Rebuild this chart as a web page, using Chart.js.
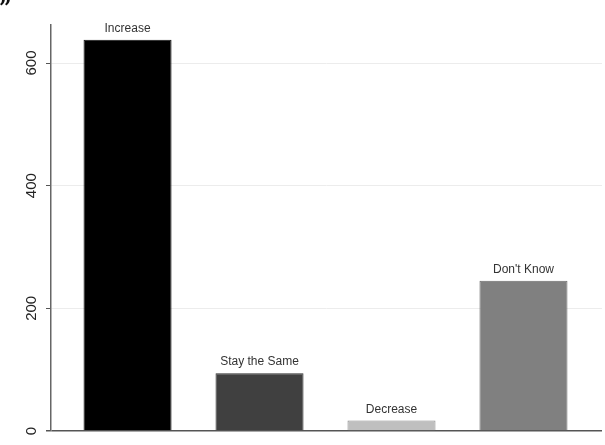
<!DOCTYPE html>
<html>
<head>
<meta charset="utf-8">
<script src="https://cdn.jsdelivr.net/npm/chart.js@4"></script>
<style>
  html, body { margin:0; padding:0; background:#fff; }
  #wrap { position:relative; width:605px; height:445px; }
</style>
</head>
<body>
<div id="wrap"><canvas id="responseChart" width="605" height="445"></canvas></div>
<script>
const categories = ["Increase", "Stay the Same", "Decrease", "Don't Know"];
const counts = [638, 94, 17, 245];
const yTicks = [0, 200, 400, 600];
const barColors = ["#000000", "#404040", "#bfbfbf", "#808080"];
const edgeColors = ["#111111", "#2e2e2e", "#8c8c8c", "#6a6a6a"];

// labels above bars + rotated y tick labels
const labelPlugin = {
    id: "labels",
    afterDatasetsDraw(chart){
        const ctx = chart.ctx;
        const meta = chart.getDatasetMeta(0);
        ctx.save();
        ctx.fillStyle = "#333";
        ctx.font = "12px 'Liberation Sans', Arial, sans-serif";
        ctx.textAlign = "center";
        ctx.textBaseline = "alphabetic";
        meta.data.forEach((bar, i) => {
            ctx.fillText(categories[i], bar.x, bar.y - 8);
        });

        const yScale = chart.scales.y;
        ctx.font = "15px 'Liberation Sans', Arial, sans-serif";
        ctx.fillStyle = "#222";
        ctx.textBaseline = "middle";
        yTicks.forEach(v => {
            ctx.save();
            ctx.translate(32, yScale.getPixelForValue(v));
            ctx.rotate(-Math.PI / 2);
            ctx.fillText(String(v), 0, 0);
            ctx.restore();
        });

        ctx.font = "bold 22px 'DejaVu Serif', serif";
        ctx.fillStyle = "#111";
        ctx.textAlign = "left";
        ctx.textBaseline = "alphabetic";
        ctx.fillText("\u201D", -1, 15);
        ctx.restore();
    }
};

new Chart(document.getElementById("responseChart"), {
    type: "bar",
    data: {
        datasets: [{
            data: counts.map((v, i) => ({x: i, y: v})),
            backgroundColor: barColors,
            borderColor: edgeColors,
            borderWidth: 1,
            barPercentage: 0.667,
            categoryPercentage: 1
        }]
    },
    options: {
        responsive: false,
        animation: false,
        layout: { padding: { left: 0, top: 25, right: 3, bottom: 14 } },
        plugins: { legend: { display: false }, tooltip: { enabled: false } },
        scales: {
            x: {
                type: "linear",
                min: -0.58,
                max: 3.595,
                offset: false,
                display: false,
                afterBuildTicks(scale){
                    scale.ticks = categories.map((c, i) => ({value: i}));
                }
            },
            y: {
                min: 0,
                max: 662,
                afterBuildTicks(scale){
                    scale.ticks = yTicks.map(v => ({value: v}));
                },
                afterFit(scale){
                    scale.width = 51;
                },
                ticks: { display: false, includeBounds: false },
                grid: {
                    color: c => c.tick && c.tick.value === 0 ? "#555" : "#ececec",
                    lineWidth: c => c.tick && c.tick.value === 0 ? 1.5 : 1,
                    tickColor: "#555",
                    tickLength: 5,
                    drawTicks: true
                },
                border: { display: true, color: "#666", width: 1.5 }
            }
        }
    },
    plugins: [labelPlugin]
});
</script>
</body>
</html>
